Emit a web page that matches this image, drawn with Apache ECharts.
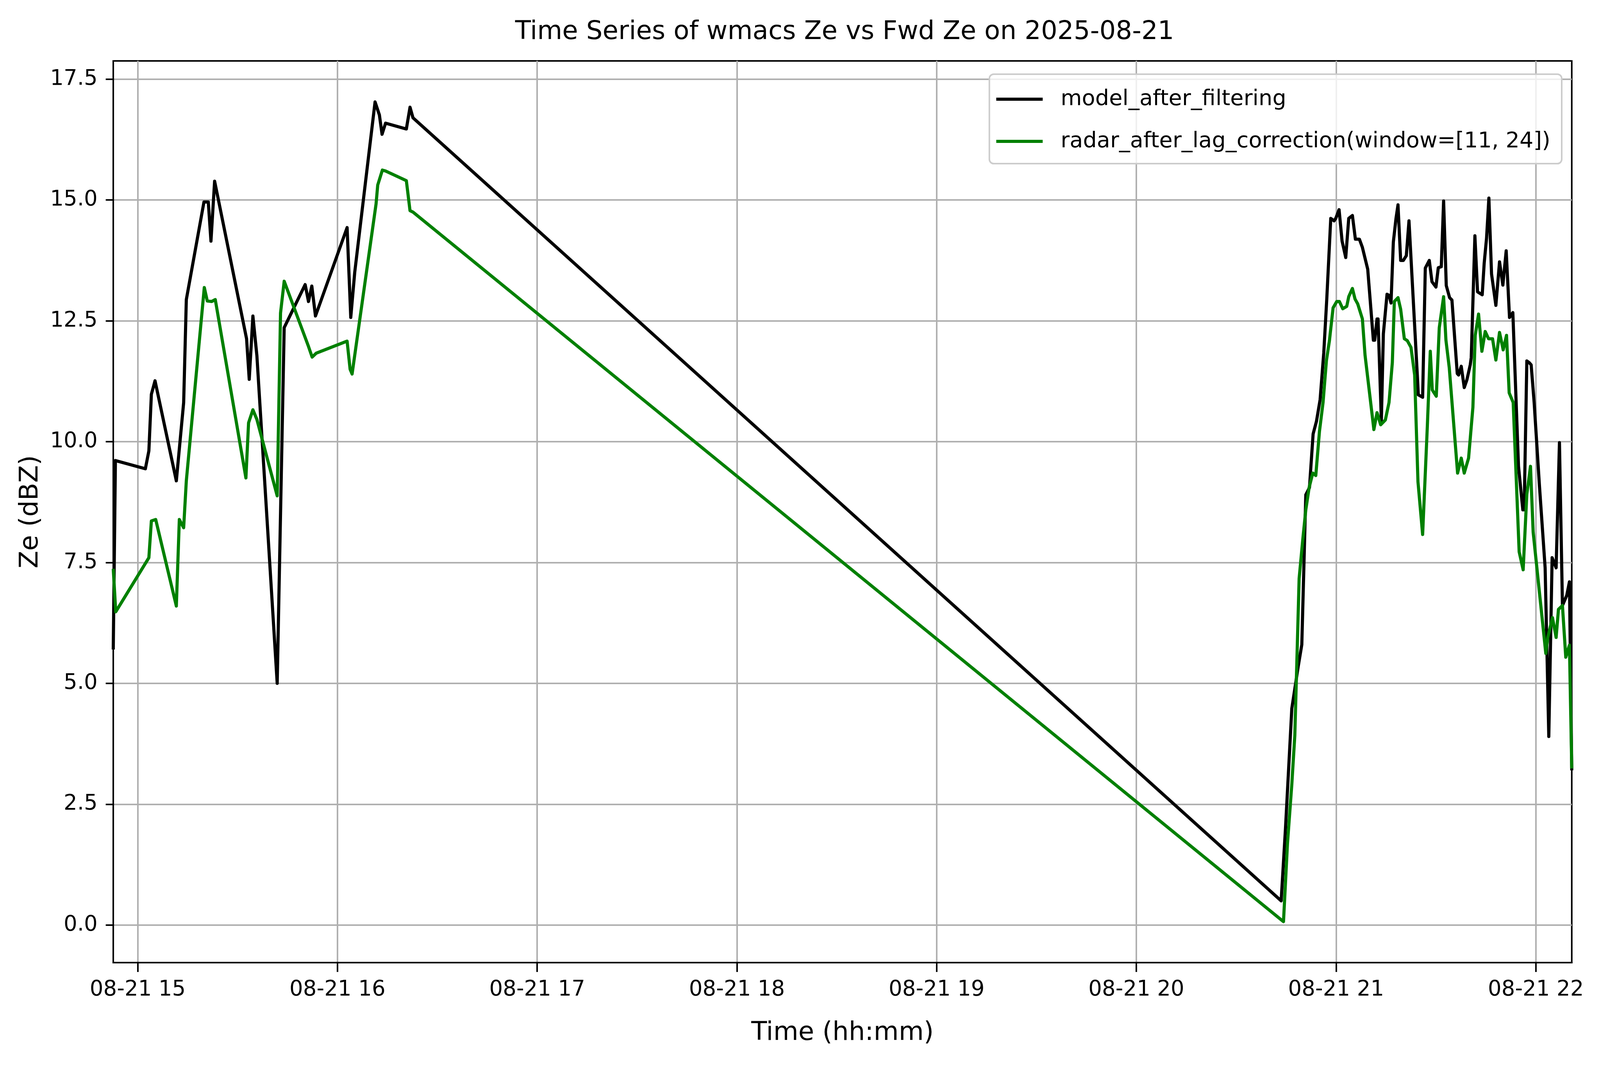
<!DOCTYPE html>
<html>
<head>
<meta charset="utf-8">
<script src="https://cdn.jsdelivr.net/npm/echarts@6/dist/echarts.min.js"></script>
<style>
html,body{margin:0;padding:0;background:#fff;overflow:hidden;}
#chart{position:absolute;left:0;top:0;}
</style>
</head>
<body>
<div id="chart"></div>
<script>
// ---- data (time in minutes after 2025-08-21 15:00) ----
const titleText = 'Time Series of wmacs Ze vs Fwd Ze on 2025-08-21';
const seriesNames = ['model_after_filtering', 'radar_after_lag_correction(window=[11, 24])'];

const modelMinutes = [-7.35, -6.7, 2.3, 3.35, 4.1, 5.2, 11.6, 13.8, 14.6, 19.9, 21.2, 22.0, 23.1, 32.7, 33.5, 34.6, 35.8, 41.9, 44.0, 50.3, 51.3, 52.3, 53.4, 62.9, 64.0, 65.2, 71.3, 72.6, 73.4, 74.45, 80.7, 81.8, 82.7,
  343.5, 344.8, 346.7, 348.6, 349.7, 350.9, 352.0, 353.1, 354.1, 355.2, 356.3, 357.2, 358.4, 359.4, 359.9, 360.9, 361.8, 362.9, 363.8, 364.9, 365.8, 367.0, 367.9, 369.5,
  371.2, 371.6, 372.3, 372.6, 373.6, 374.2, 375.3, 375.9, 376.5, 377.2, 378.0, 378.6, 379.4, 380.2, 381.1, 381.9, 384.4, 384.7, 386.0, 386.8, 388.0, 388.8, 390.0, 390.7,
  391.6, 392.3, 393.1, 394.1, 394.8, 396.4, 396.8, 397.6, 398.5, 399.3, 400.3, 400.6, 401.7, 402.5, 403.9, 404.5, 405.2, 405.9, 406.7, 408.0, 409.1, 410.1, 411.1, 412.1,
  413.1, 414.8, 416.1, 416.5, 417.3, 418.1, 418.6, 419.5, 421.1, 422.8, 423.9, 424.9, 426.1, 427.1, 428.0, 429.3, 430.1, 430.8];
const modelZe = [5.7, 9.61, 9.44, 9.81, 10.98, 11.26, 9.19, 10.81, 12.94, 14.96, 14.96, 14.15, 15.39, 12.13, 11.29, 12.6, 11.78, 5.0, 12.36, 13.25, 12.9, 13.22, 12.6, 14.43, 12.57, 13.51, 17.03, 16.76, 16.36, 16.59, 16.47, 16.92, 16.7,
  0.5, 2.0, 4.48, 5.34, 5.8, 8.9, 9.05, 10.16, 10.42, 10.87, 11.84, 12.95, 14.62, 14.57, 14.62, 14.8, 14.15, 13.81, 14.62, 14.68, 14.19, 14.19, 14.02, 13.57,
  12.1, 12.1, 12.54, 12.54, 10.43, 12.23, 13.05, 13.03, 12.87, 14.13, 14.62, 14.9, 13.75, 13.75, 13.85, 14.57, 11.38, 10.97, 10.92, 13.59, 13.75, 13.31, 13.2, 13.6,
  13.62, 14.98, 13.23, 12.98, 12.93, 11.41, 11.38, 11.56, 11.12, 11.28, 11.59, 11.74, 14.26, 13.1, 13.04, 13.7, 14.21, 15.04, 13.47, 12.82, 13.72, 13.24, 13.95, 12.57,
  12.67, 9.49, 8.59, 8.59, 11.67, 11.63, 11.59, 10.81, 9.08, 7.39, 3.9, 7.6, 7.39, 9.98, 6.61, 6.82, 7.1, 3.2];

const radarMinutes = [-7.35, -6.6, 3.35, 4.1, 5.4, 11.6, 12.5, 13.8, 14.6, 20.0, 20.9, 22.2, 23.3, 32.5, 33.3, 34.6, 35.8, 41.9, 42.9, 44.0, 51.3, 52.4, 53.6, 62.9, 63.8, 64.4, 71.6, 72.1, 73.5, 74.45, 80.7, 81.8, 82.7,
  343.3, 344.2, 345.4, 346.7, 347.6, 348.9, 350.0, 350.9, 351.9, 353.0, 353.9, 355.0, 356.1, 357.1, 358.0, 359.1, 360.2, 361.0, 362.0, 363.2, 363.8, 364.9, 365.7, 366.5,
  367.9, 368.7, 371.35, 372.3, 373.4, 374.8, 375.9, 376.9, 377.5, 378.6, 379.4, 380.5, 381.4, 382.5, 383.6, 384.6, 386.0, 387.4, 388.3, 388.9, 390.1, 391.0, 392.3, 393.0,
  394.0, 396.5, 397.6, 398.5, 399.8, 401.1, 401.8, 402.8, 403.8, 404.8, 405.8, 407.0, 408.0, 409.1, 410.2, 411.2, 412.0, 413.2, 415.0, 416.2, 417.3, 418.4, 419.2, 423.0,
  423.6, 425.0, 426.1, 426.8, 428.0, 429.0, 430.1, 430.8];
const radarZe = [7.37, 6.48, 7.6, 8.36, 8.39, 6.6, 8.39, 8.22, 9.19, 13.19, 12.91, 12.9, 12.94, 9.25, 10.39, 10.66, 10.46, 8.88, 12.66, 13.32, 11.97, 11.75, 11.83, 12.08, 11.5, 11.4, 14.92, 15.31, 15.62, 15.6, 15.4, 14.78, 14.75,
  0.12, 0.07, 1.69, 2.91, 3.92, 7.17, 7.98, 8.59, 9.05, 9.35, 9.3, 10.21, 10.82, 11.68, 12.09, 12.77, 12.9, 12.9, 12.75, 12.8, 13.0, 13.17, 12.95, 12.85,
  12.54, 11.79, 10.25, 10.6, 10.35, 10.45, 10.81, 11.64, 12.9, 12.98, 12.74, 12.13, 12.09, 11.95, 11.38, 9.17, 8.08, 10.3, 11.87, 11.07, 10.94, 12.36, 13.0, 12.1,
  11.53, 9.35, 9.66, 9.35, 9.66, 10.71, 12.2, 12.64, 11.87, 12.28, 12.13, 12.13, 11.69, 12.26, 11.9, 12.2, 11.01, 10.81, 7.72, 7.35, 8.91, 9.49, 8.13, 5.62,
  5.95, 6.36, 5.95, 6.53, 6.61, 5.54, 5.79, 3.24];

const xTickLabels = ['08-21 15', '08-21 16', '08-21 17', '08-21 18', '08-21 19', '08-21 20', '08-21 21', '08-21 22'];
const yTickLabels = ['0.0', '2.5', '5.0', '7.5', '10.0', '12.5', '15.0', '17.5'];
const xRange = [-7.35, 430.8];
const yRange = [-0.778, 17.878];

// ---- build ----
const xTickValues = xTickLabels.map(l => (parseInt(l.slice(6), 10) - 15) * 60);
const yTickValues = yTickLabels.map(l => parseFloat(l));
const modelData = modelMinutes.map((m, i) => [m, modelZe[i]]);
const radarData = radarMinutes.map((m, i) => [m, radarZe[i]]);

// layout designed for a 5100 x 2740 picture; scale to the real CSS viewport
const W = window.innerWidth || 5100;
const H = window.innerHeight || 2740;
const kx = W / 5100, ky = H / 2740;
const px = v => v * kx;   // horizontal sizes, fonts, line widths
const py = v => v * ky;   // vertical positions

const el = document.getElementById('chart');
el.style.width = W + 'px';
el.style.height = H + 'px';

const FONT = 'DejaVu Sans';
const chart = echarts.init(el, null, {renderer: 'canvas', width: W, height: H});
chart.setOption({
  animation: false,
  backgroundColor: '#ffffff',
  textStyle: {fontFamily: FONT},
  title: {
    text: titleText, left: px(2686), top: py(45), textAlign: 'center',
    textStyle: {fontSize: px(82), fontWeight: 'normal', color: '#000', fontFamily: FONT}
  },
  grid: {left: px(361), right: px(90), top: py(156), bottom: H - py(2465), show: true, borderColor: '#000', borderWidth: px(5), backgroundColor: 'transparent'},
  legend: {
    orient: 'vertical', top: py(190), right: px(122),
    data: seriesNames,
    icon: 'rect', itemWidth: px(148), itemHeight: px(10), itemGap: py(28),
    padding: [py(24), px(36), py(17), px(22)],
    backgroundColor: 'rgba(255,255,255,0.8)', borderColor: '#cccccc', borderWidth: px(5), borderRadius: px(14),
    textStyle: {fontSize: px(69.5), color: '#000', fontFamily: FONT, lineHeight: py(80), padding: [0, 0, 0, px(51)]}
  },
  xAxis: {
    type: 'value', min: xRange[0], max: xRange[1],
    axisLine: {show: true, onZero: false, lineStyle: {color: '#000', width: px(5)}},
    axisTick: {show: true, customValues: xTickValues, length: py(24), lineStyle: {color: '#000', width: px(5)}},
    axisLabel: {customValues: xTickValues, fontSize: px(68), color: '#000', fontFamily: FONT, margin: py(42),
      formatter: v => xTickLabels[xTickValues.indexOf(Math.round(v))] || ''},
    splitLine: {show: true, lineStyle: {color: '#b0b0b0', width: px(5)}},
    name: 'Time (hh:mm)', nameLocation: 'middle', nameGap: py(148),
    nameTextStyle: {fontSize: px(82), color: '#000', fontFamily: FONT}
  },
  yAxis: {
    type: 'value', min: yRange[0], max: yRange[1],
    axisLine: {show: true, onZero: false, lineStyle: {color: '#000', width: px(5)}},
    axisTick: {show: true, customValues: yTickValues, length: px(24), lineStyle: {color: '#000', width: px(5)}},
    axisLabel: {customValues: yTickValues, fontSize: px(68), color: '#000', fontFamily: FONT, margin: px(50),
      formatter: v => v.toFixed(1)},
    splitLine: {show: true, lineStyle: {color: '#b0b0b0', width: px(5)}},
    name: 'Ze (dBZ)', nameLocation: 'middle', nameGap: px(222),
    nameTextStyle: {fontSize: px(82), color: '#000', fontFamily: FONT}
  },
  series: [
    {name: seriesNames[0], type: 'line', data: modelData, symbol: 'none', showSymbol: false, clip: true, z: 2,
      itemStyle: {color: '#000000'}, lineStyle: {color: '#000000', width: px(10), join: 'round'}},
    {name: seriesNames[1], type: 'line', data: radarData, symbol: 'none', showSymbol: false, clip: true, z: 3,
      itemStyle: {color: '#008000'}, lineStyle: {color: '#008000', width: px(10), join: 'round'}}
  ]
});
</script>
</body>
</html>
